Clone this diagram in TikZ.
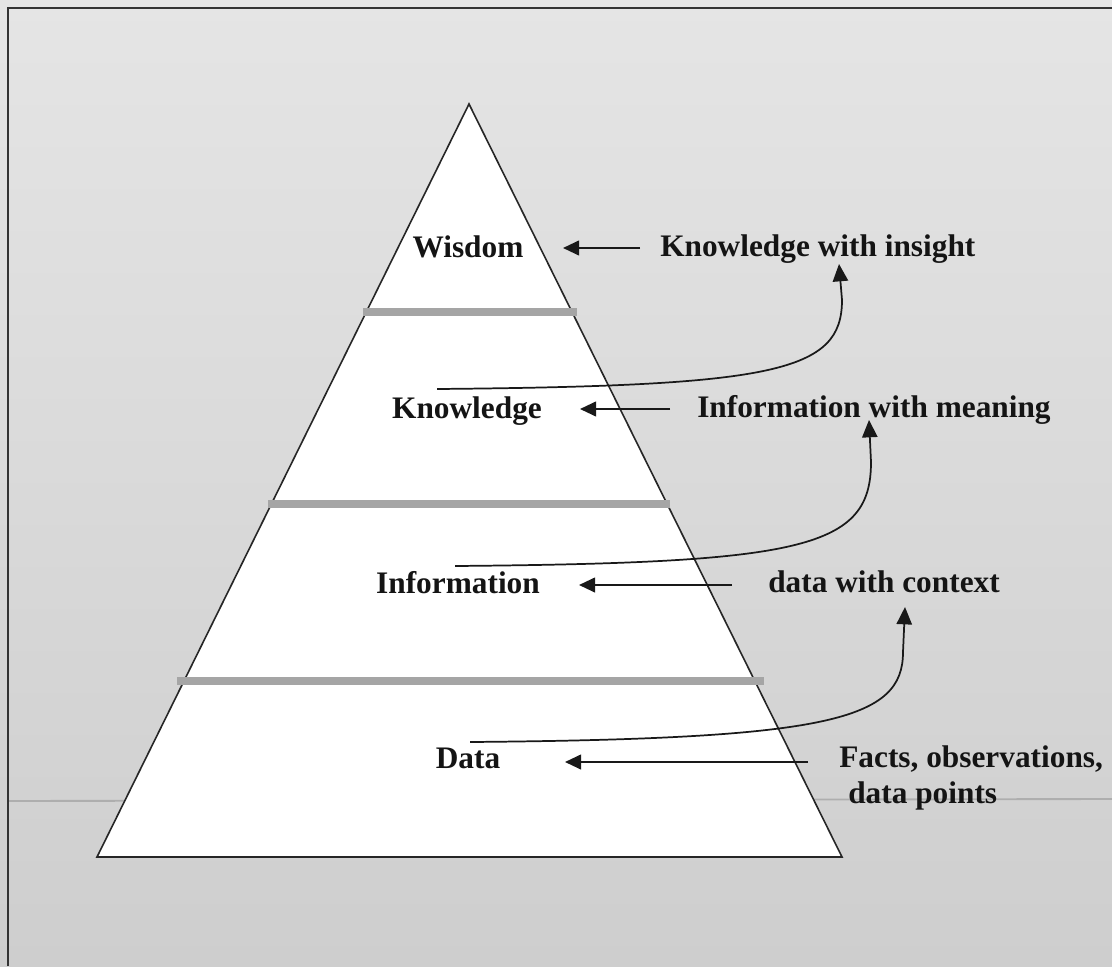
\documentclass[tikz,border=0pt]{standalone}
\usepackage{fontspec}
\setmainfont{Liberation Serif}
\usetikzlibrary{arrows.meta}
\definecolor{bgtop}{RGB}{229,229,229}
\definecolor{bgbot}{RGB}{206,206,206}
\definecolor{bargray}{RGB}{165,165,165}
\definecolor{scanline}{RGB}{160,160,160}
\begin{document}
\begin{tikzpicture}[x=0.75pt,y=-0.75pt,
  txt/.style={font=\bfseries\fontsize{23.5}{27}\selectfont, inner sep=0pt, text=black!92},
  lbl/.style={txt, anchor=base},
  rlbl/.style={txt, anchor=base west},
  arr/.style={-{Triangle[length=12pt,width=11pt]}, line width=1.5pt, black!90},
  carr/.style={-{Triangle[length=13pt,width=11.5pt]}, line width=1.3pt, black!90},
  layerbar/.style={line width=5.5pt, bargray},
  pyr/.style={fill=white, draw=black!85, line width=1.2pt, line join=miter},
]
\useasboundingbox (0,0) rectangle (1112,966);
% background and frame
\fill[top color=bgtop, bottom color=bgbot] (0,0) rectangle (1112,966);
\draw[scanline, line width=1.4pt, opacity=0.7] (8,801) -- (1112,799);
\draw[black!80, line width=1.8pt] (8,966) -- (8,8) -- (1112,8);

% pyramid
\coordinate (apex) at (469,104);
\coordinate (bl) at (97,857);
\coordinate (br) at (842,857);
\draw[pyr] (apex) -- (br) -- (bl) -- cycle;

% layer separators
\draw[layerbar] (363,312) -- (577,312);
\draw[layerbar] (268,504) -- (670,504);
\draw[layerbar] (177,681) -- (764,681);

% left labels
\node[lbl] (wis) at (468,257) {Wisdom};
\node[lbl] (kno) at (467,418) {Knowledge};
\node[lbl] (inf) at (458,593) {Information};
\node[lbl] (dat) at (468,768) {Data};

% right labels
\node[rlbl] (kwi) at (660,256) {Knowledge with insight};
\node[rlbl] (iwm) at (697,417) {Information with meaning};
\node[rlbl] (dwc) at (768,592) {data with context};
\node[rlbl] (fac) at (839,767) {Facts, observations,};
\node[rlbl] (dpt) at (848,803) {data points};

% straight arrows
\coordinate (a1t) at (640,248); \coordinate (a1h) at (563,248);
\coordinate (a2t) at (670,409); \coordinate (a2h) at (580,409);
\coordinate (a3t) at (732,585); \coordinate (a3h) at (579,585);
\coordinate (a4t) at (808,762); \coordinate (a4h) at (565,762);
\draw[arr] (a1t) -- (a1h);
\draw[arr] (a2t) -- (a2h);
\draw[arr] (a3t) -- (a3h);
\draw[arr] (a4t) -- (a4h);

% curved arrows
\coordinate (c1s) at (437,389); \coordinate (c1k) at (842,300); \coordinate (c1e) at (839,264);
\coordinate (c2s) at (455,566); \coordinate (c2k) at (871,462); \coordinate (c2e) at (869,420);
\coordinate (c3s) at (470,742); \coordinate (c3k) at (903,652); \coordinate (c3e) at (905,607);
\draw[carr] (c1s) .. controls (775,386) and (842,372) .. (c1k) -- (c1e);
\draw[carr] (c2s) .. controls (805,563) and (871,548) .. (c2k) -- (c2e);
\draw[carr] (c3s) .. controls (830,739) and (903,720) .. (c3k) -- (c3e);
\end{tikzpicture}
\end{document}
